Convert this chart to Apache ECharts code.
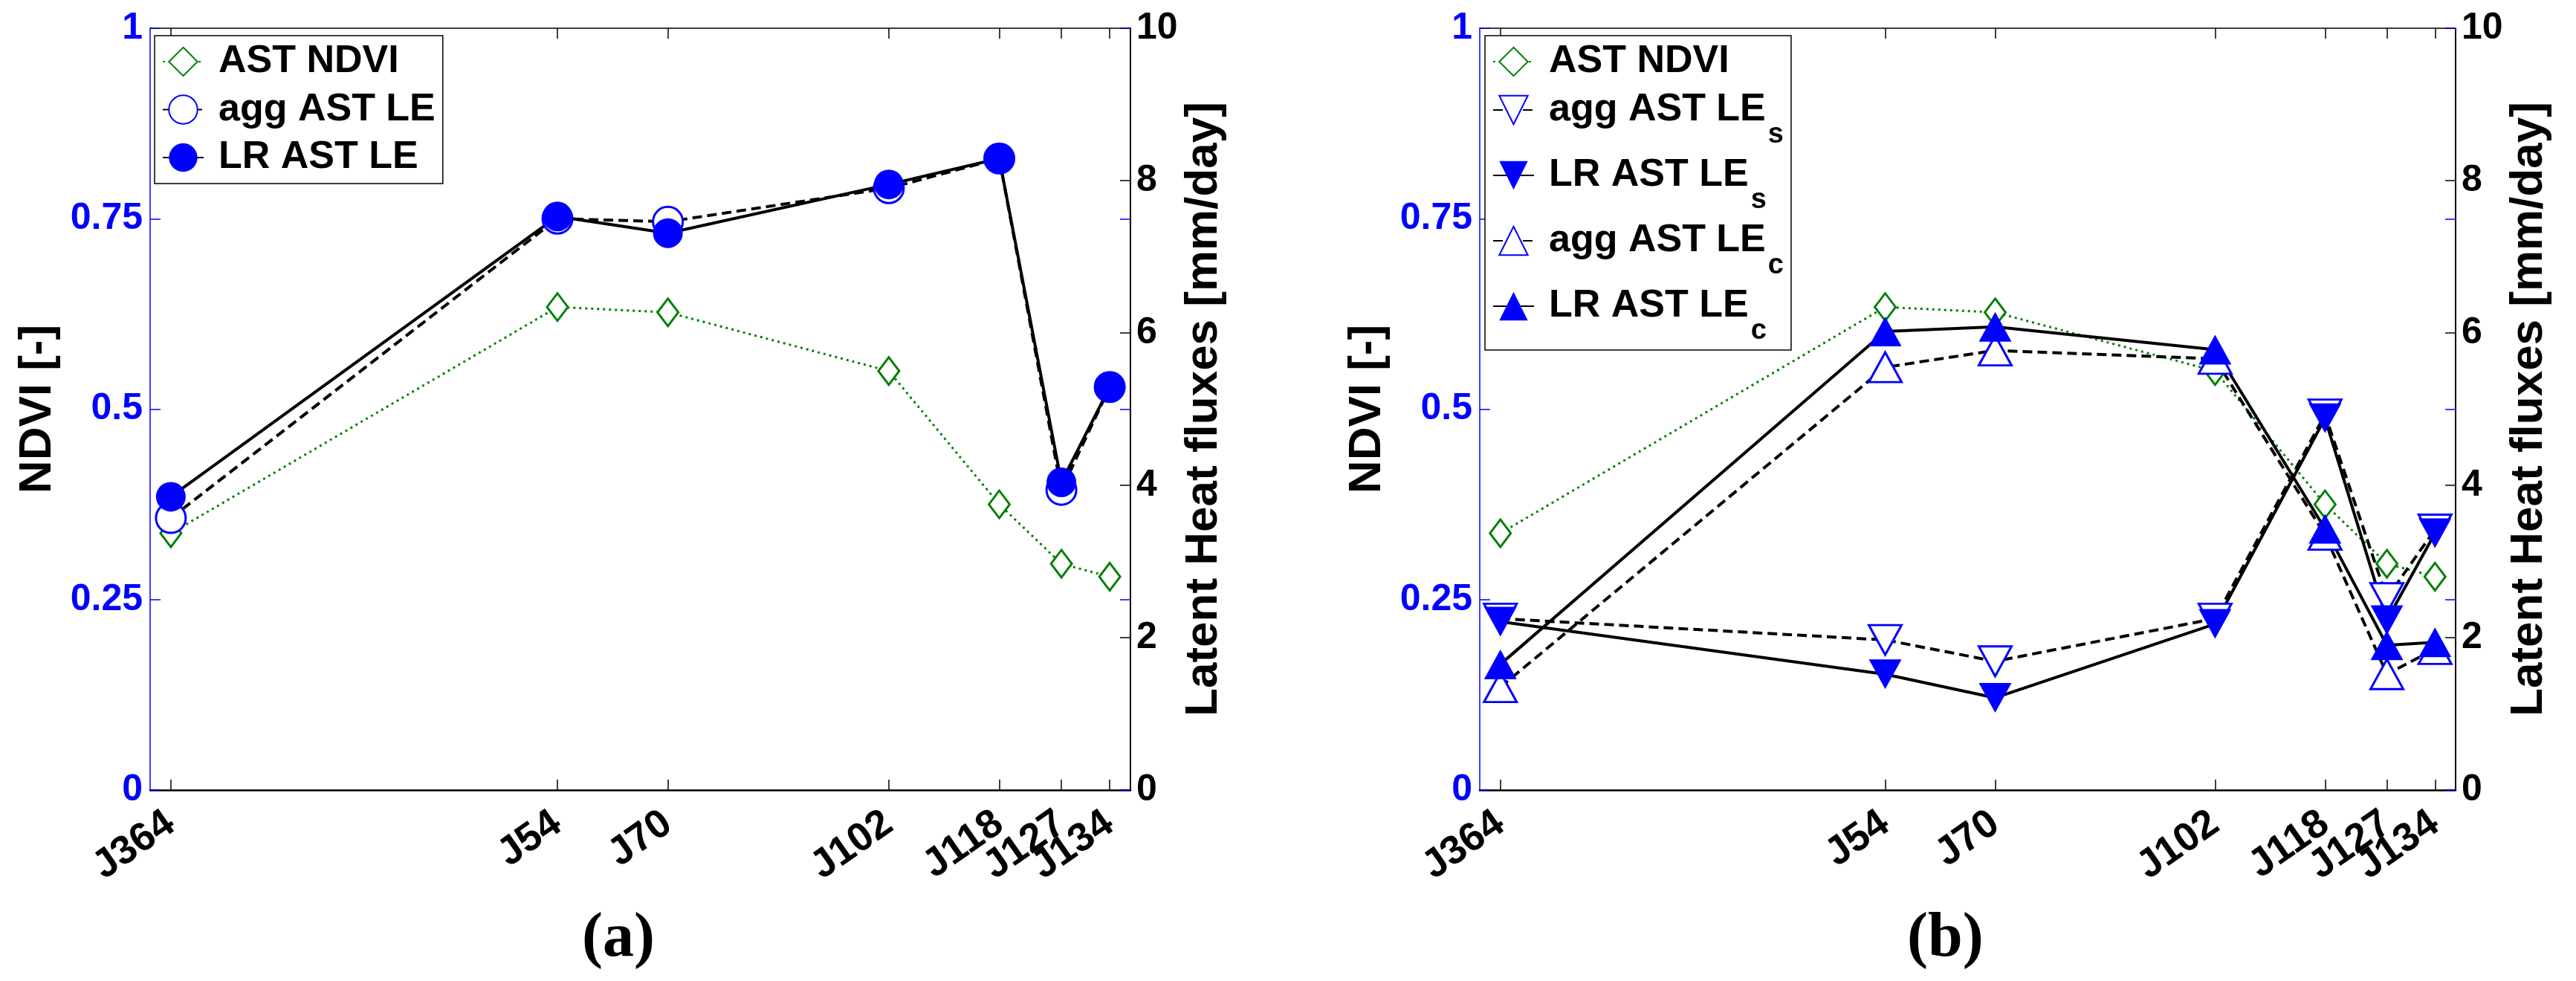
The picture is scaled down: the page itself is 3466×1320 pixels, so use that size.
<!DOCTYPE html>
<html>
<head>
<meta charset="utf-8">
<title>NDVI and latent heat fluxes</title>
<script src="https://cdn.jsdelivr.net/npm/echarts@6.0.0/dist/echarts.min.js"></script>
<style>
    html, body { margin: 0; padding: 0; background: #fff; }
    #chart { width: 3466px; height: 1320px; }
</style>
</head>
<body>
<div id="chart"></div>
<script>

// Chart data
// ------------------------------

// Acquisition days (J364 of previous year is day -2)
var dayValues = [-2, 54, 70, 102, 118, 127, 134];
var dayLabels = ['J364', 'J54', 'J70', 'J102', 'J118', 'J127', 'J134'];

// NDVI [-] (left axis)
var astNdvi = [0.337, 0.634, 0.627, 0.550, 0.375, 0.297, 0.280];

// Panel (a) total latent heat [mm/day]
var aggAstLe = [3.57, 7.50, 7.46, 7.90, 8.29, 3.94, 5.29];
var lrAstLe = [3.85, 7.53, 7.31, 7.95, 8.29, 4.04, 5.29];

// Panel (b) soil and canopy latent heat [mm/day]
var aggAstLeS = [2.25, 1.97, 1.69, 2.25, 4.93, 2.52, 3.42];
var lrAstLeS = [2.21, 1.52, 1.21, 2.18, 4.88, 2.23, 3.37];
var aggAstLeC = [1.35, 5.55, 5.77, 5.66, 3.35, 1.52, 1.85];
var lrAstLeC = [1.65, 6.02, 6.08, 5.78, 3.43, 1.90, 1.94];

// Axis ranges
var dayMin = -5;
var dayMax = 137;


// Setup chart
// ------------------------------

var FONT = '"Liberation Sans", Arial, sans-serif';
var SERIF = '"Liberation Serif", "Times New Roman", serif';
var BLUE = '#0000ff';
var GREEN = '#008000';

var chart = echarts.init(document.getElementById('chart'), null, { renderer: 'canvas' });

var zip = function (values) {
    return dayValues.map(function (d, i) { return [d, values[i]]; });
};

var dayLabel = function (value) {
    var i = dayValues.indexOf(value);
    return i < 0 ? '' : dayLabels[i];
};

// J127 and J134 labels overlap; ECharts would hide one of them,
// so J127 goes on its own label-only axis
var crowdedDay = dayValues[5];
var mainLabelDays = dayValues.filter(function (d) { return d !== crowdedDay; });

// One line series
var lineSeries = function (name, values, panel, yIndex, mark) {
    var filled = mark.filled;
    return {
        name: name,
        type: 'line',
        xAxisIndex: panel * 2,
        yAxisIndex: panel * 3 + yIndex,
        data: zip(values),
        symbol: mark.symbol,
        symbolSize: mark.size,
        symbolRotate: mark.rotate || 0,
        showSymbol: true,
        clip: false,
        lineStyle: {
            color: mark.lineColor || '#000',
            width: mark.lineWidth || 4,
            type: mark.lineType || 'solid'
        },
        itemStyle: {
            color: filled ? mark.color : '#fff',
            borderColor: mark.color,
            borderWidth: filled ? 0 : 3
        },
        emphasis: { disabled: true }
    };
};

var ndviMark = { symbol: 'diamond', size: [28, 37], color: GREEN, filled: false,
    lineColor: GREEN, lineWidth: 3, lineType: [3, 5] };
var dash = [13, 7];

var tickLabelStyle = function (values) {
    return {
        show: true,
        customValues: values,
        formatter: dayLabel,
        showMinLabel: true,
        showMaxLabel: true,
        rotate: 35,
        margin: 40,
        color: '#000',
        fontSize: 54,
        fontWeight: 'bold',
        fontFamily: FONT
    };
};

// Axes for one panel
var xAxes = function (gridIndex) {
    return [{
        type: 'value',
        gridIndex: gridIndex,
        position: 'bottom',
        min: dayMin,
        max: dayMax,
        axisLine: { show: true, onZero: false, lineStyle: { color: '#000', width: 2.5 } },
        axisTick: { show: true, inside: true, length: 14, customValues: dayValues,
            lineStyle: { color: '#000', width: 1.5 } },
        axisLabel: tickLabelStyle(mainLabelDays),
        splitLine: { show: false }
    }, {
        type: 'value',
        gridIndex: gridIndex,
        position: 'top',
        min: dayMin,
        max: dayMax,
        axisLine: { show: true, onZero: false, lineStyle: { color: '#000', width: 1.5 } },
        axisTick: { show: true, inside: true, length: 14, customValues: dayValues,
            lineStyle: { color: '#000', width: 1.5 } },
        axisLabel: { show: false },
        splitLine: { show: false }
    }];
};

// Label-only axis sitting on a copy of the panel grid
var extraLabelAxis = function (gridIndex) {
    return {
        type: 'value',
        gridIndex: gridIndex,
        position: 'bottom',
        min: dayMin,
        max: dayMax,
        axisLine: { show: false, onZero: false },
        axisTick: { show: false },
        axisLabel: tickLabelStyle([crowdedDay]),
        splitLine: { show: false }
    };
};

var yAxes = function (gridIndex) {
    return [{
        // NDVI, left
        type: 'value',
        gridIndex: gridIndex,
        position: 'left',
        min: 0,
        max: 1,
        interval: 0.25,
        name: 'NDVI [-]',
        nameLocation: 'middle',
        nameRotate: 90,
        nameGap: 120,
        nameTextStyle: { color: '#000', fontSize: 62, fontWeight: 'bold', fontFamily: FONT },
        axisLine: { show: true, onZero: false, lineStyle: { color: BLUE, width: 1.5 } },
        axisTick: { show: true, inside: true, length: 14, lineStyle: { color: BLUE, width: 1.5 } },
        axisLabel: { color: BLUE, fontSize: 50, fontWeight: 'bold', fontFamily: FONT, margin: 10,
            showMinLabel: true, showMaxLabel: true },
        splitLine: { show: false }
    }, {
        // Latent heat, right
        type: 'value',
        gridIndex: gridIndex,
        position: 'right',
        min: 0,
        max: 10,
        interval: 2,
        name: 'Latent Heat fluxes [mm/day]',
        nameLocation: 'middle',
        nameRotate: 90,
        nameGap: 68,
        nameTextStyle: { color: '#000', fontSize: 62, fontWeight: 'bold', fontFamily: FONT },
        axisLine: { show: true, onZero: false, lineStyle: { color: '#000', width: 2 } },
        axisTick: { show: true, inside: true, length: 14, lineStyle: { color: '#000', width: 1.5 } },
        axisLabel: { color: '#000', fontSize: 50, fontWeight: 'bold', fontFamily: FONT, margin: 8,
            showMinLabel: true, showMaxLabel: true },
        splitLine: { show: false }
    }, {
        // NDVI ticks repeated on the right
        type: 'value',
        gridIndex: gridIndex,
        position: 'right',
        min: 0,
        max: 1,
        interval: 0.25,
        axisLine: { show: false, onZero: false },
        axisTick: { show: true, inside: true, length: 14, lineStyle: { color: BLUE, width: 1.5 } },
        axisLabel: { show: false },
        splitLine: { show: false }
    }];
};

var hiddenY = function (gridIndex) {
    return { type: 'value', gridIndex: gridIndex, min: 0, max: 1, show: false };
};

// Legend subscripts for panel (b)
var subNames = {
    'agg AST LEs': ['agg AST LE', 's'],
    'LR AST LEs': ['LR AST LE', 's'],
    'agg AST LEc': ['agg AST LE', 'c'],
    'LR AST LEc': ['LR AST LE', 'c']
};

var legendText = {
    color: '#000',
    fontSize: 52,
    fontWeight: 'bold',
    fontFamily: FONT,
    lineHeight: 60,
    padding: [0, 0, 0, 15],
    rich: {
        m: { fontSize: 52, fontWeight: 'bold', fontFamily: FONT, color: '#000',
            lineHeight: 106, verticalAlign: 'middle' },
        s: { fontSize: 38, fontWeight: 'bold', fontFamily: FONT, color: '#000',
            lineHeight: 106, verticalAlign: 'bottom', padding: [0, 0, 0, 3] }
    }
};

var captionStyle = {
    rich: {
        p: { fontSize: 84, fontFamily: SERIF, color: '#000' },
        b: { fontSize: 84, fontWeight: 'bold', fontFamily: SERIF, color: '#000' }
    }
};

var gridA = { left: 202, right: 3466 - 1521, top: 38, bottom: 1320 - 1063 };
var gridB = { left: 1991, right: 3466 - 3304, top: 38, bottom: 1320 - 1063 };


// Options
// ------------------------------

chart.setOption({
    animation: false,
    backgroundColor: '#fff',
    textStyle: { fontFamily: FONT },

    title: [
        { text: '{p|(}{b|a}{p|)}', left: 783, top: 1222, textStyle: captionStyle, padding: 0 },
        { text: '{p|(}{b|b}{p|)}', left: 2566, top: 1222, textStyle: captionStyle, padding: 0 }
    ],

    grid: [gridA, gridB, gridA, gridB],

    xAxis: xAxes(0).concat(xAxes(1), [extraLabelAxis(2), extraLabelAxis(3)]),
    yAxis: yAxes(0).concat(yAxes(1), [hiddenY(2), hiddenY(3)]),

    legend: [{
        data: ['AST NDVI', 'agg AST LE', 'LR AST LE'],
        orient: 'vertical',
        left: 208,
        top: 48,
        itemWidth: 55,
        itemHeight: 48,
        itemGap: 4.5,
        padding: [5, 10, 5, 10],
        borderColor: '#000',
        borderWidth: 1.5,
        backgroundColor: '#fff',
        selectedMode: false,
        textStyle: legendText
    }, {
        data: ['AST NDVI', 'agg AST LEs', 'LR AST LEs', 'agg AST LEc', 'LR AST LEc'],
        orient: 'vertical',
        left: 1998,
        top: 48,
        itemWidth: 55,
        itemHeight: 48,
        itemGap: -18,
        padding: [5, 10, 6, 10],
        borderColor: '#000',
        borderWidth: 1.5,
        backgroundColor: '#fff',
        selectedMode: false,
        textStyle: legendText,
        formatter: function (name) {
            var parts = subNames[name];
            return parts ? '{m|' + parts[0] + '}{s|' + parts[1] + '}' : name;
        }
    }],

    series: [
        // Panel (a)
        lineSeries('AST NDVI', astNdvi, 0, 0, ndviMark),
        lineSeries('agg AST LE', aggAstLe, 0, 1,
            { symbol: 'circle', size: 40, color: BLUE, filled: false, lineType: dash }),
        lineSeries('LR AST LE', lrAstLe, 0, 1,
            { symbol: 'circle', size: 40, color: BLUE, filled: true }),

        // Panel (b)
        lineSeries('AST NDVI', astNdvi, 1, 0, ndviMark),
        lineSeries('agg AST LEs', aggAstLeS, 1, 1,
            { symbol: 'triangle', size: [44, 40], rotate: 180, color: BLUE, filled: false, lineType: dash }),
        lineSeries('LR AST LEs', lrAstLeS, 1, 1,
            { symbol: 'triangle', size: [44, 40], rotate: 180, color: BLUE, filled: true }),
        lineSeries('agg AST LEc', aggAstLeC, 1, 1,
            { symbol: 'triangle', size: [44, 40], color: BLUE, filled: false, lineType: dash }),
        lineSeries('LR AST LEc', lrAstLeC, 1, 1,
            { symbol: 'triangle', size: [44, 40], color: BLUE, filled: true })
    ]
});

</script>
</body>
</html>
